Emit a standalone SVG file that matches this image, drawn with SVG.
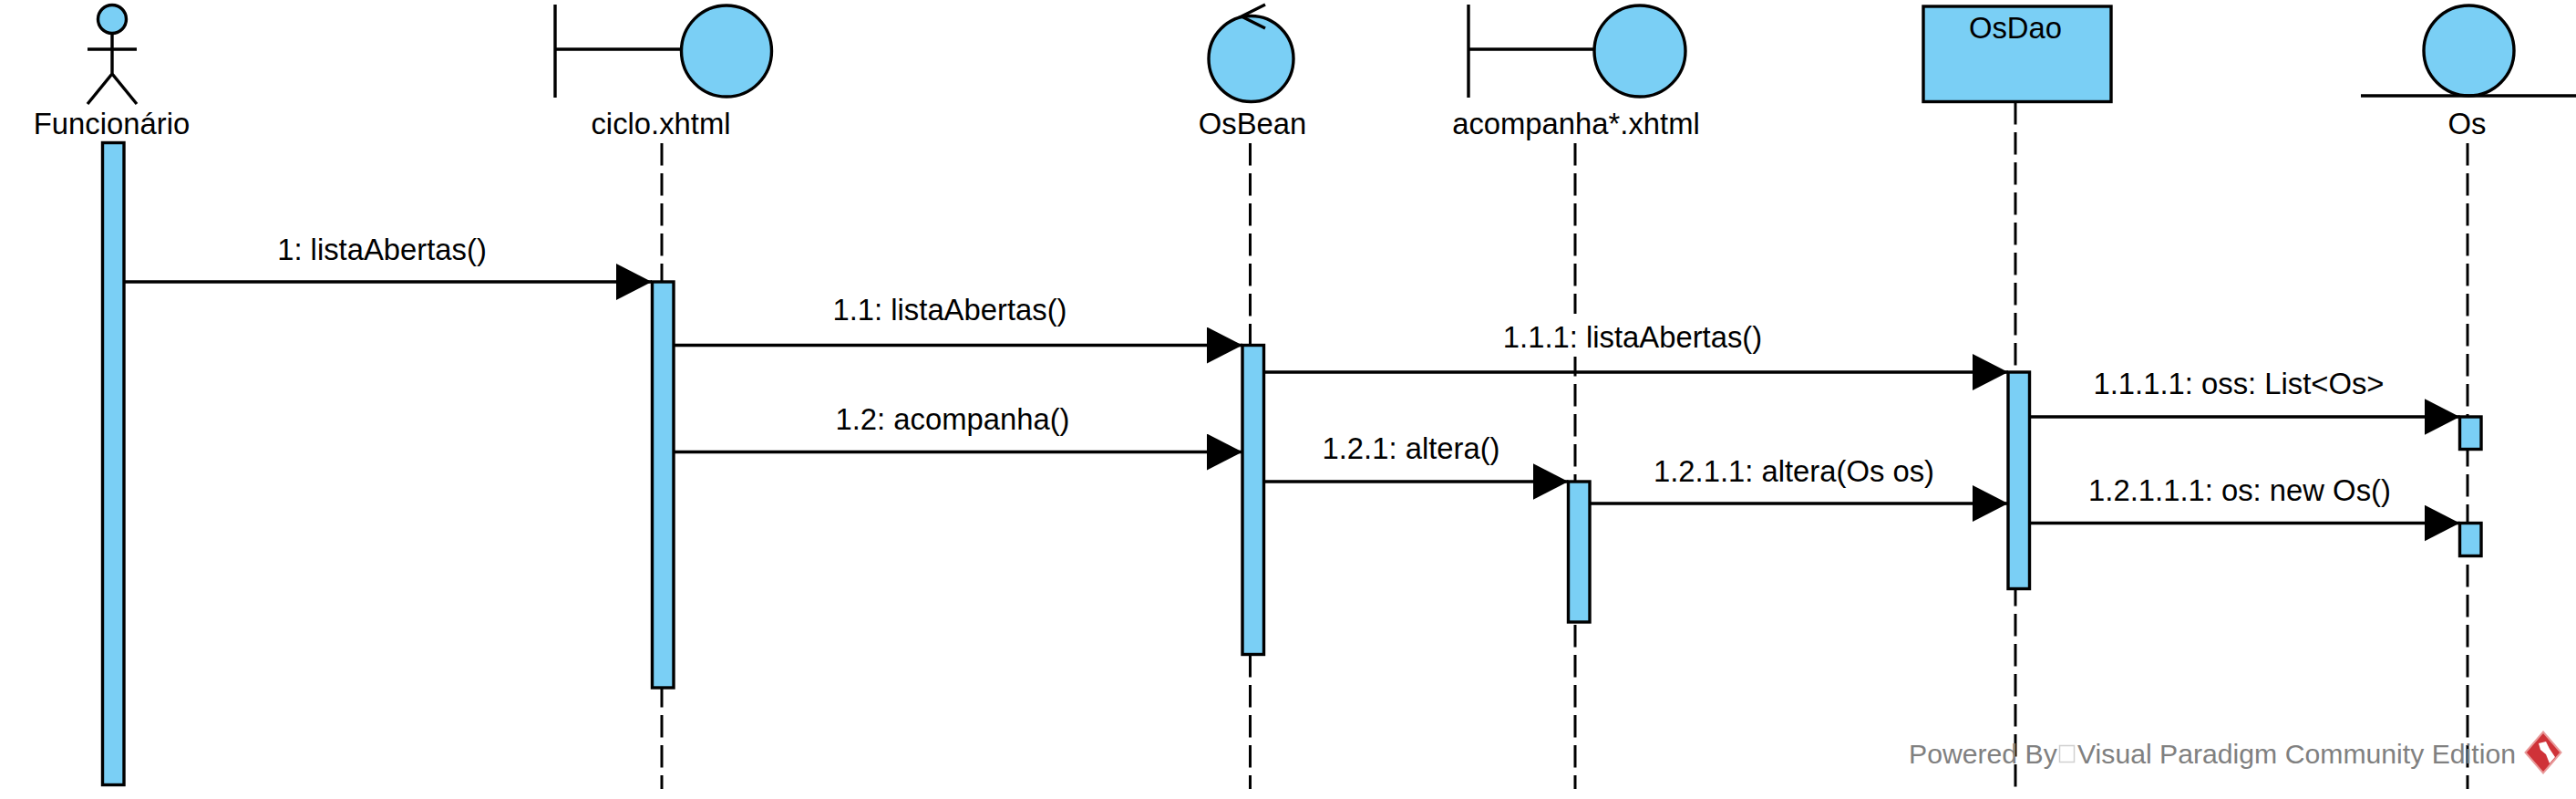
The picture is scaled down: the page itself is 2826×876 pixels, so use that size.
<svg xmlns="http://www.w3.org/2000/svg" width="2826" height="876" viewBox="0 0 2826 876">
<style>
text{font-family:"Liberation Sans",Arial,sans-serif;font-size:32.8px;fill:#000;text-anchor:middle}
.s{fill:#7acff5;stroke:#000;stroke-width:3.4}
.l{fill:none;stroke:#000;stroke-width:3.4}
.ll{fill:none;stroke:#000;stroke-width:3;stroke-dasharray:24.6 8.4}
.m{fill:none;stroke:#000;stroke-width:3.4;marker-end:url(#a)}
text.w{font-size:30.2px;fill:#808080;text-anchor:start}
</style>
<defs>
<marker id="a" markerUnits="userSpaceOnUse" markerWidth="39" markerHeight="40" viewBox="0 0 39 40" refX="39" refY="20" orient="auto"><path d="M0 0L39 20L0 40Z" fill="#000"/></marker>
</defs>
<rect width="2826" height="876" fill="#fff"/>
<g id="lifelines">
<path class="ll" d="M726 157V865"/>
<path class="ll" d="M1371.500 157V865"/>
<path class="ll" d="M1728 157V865"/>
<path class="ll" d="M2211 112V863"/>
<path class="ll" d="M2707 157V865"/>
</g>
<g id="actor-funcionario">
<circle class="s" cx="123" cy="21" r="15.500"/>
<path class="l" d="M123 36.500V81M96 54H150M96 114L123 81L150 114"/>
<text x="122.500" y="147">Funcionário</text>
<rect class="s" x="112.500" y="156.500" width="23.500" height="704"/>
</g>
<g id="boundary-ciclo">
<path class="l" d="M609 5V107M609 54H748"/>
<ellipse class="s" cx="797" cy="56" rx="49.500" ry="50"/>
<text x="725" y="147">ciclo.xhtml</text>
<rect class="s" x="715.500" y="309" width="23.500" height="445"/>
</g>
<g id="control-osbean">
<ellipse class="s" cx="1372.500" cy="64.500" rx="46.500" ry="47"/>
<path class="l" d="M1388 5L1362 18L1388 31"/>
<text x="1374" y="147">OsBean</text>
<rect class="s" x="1363" y="378.500" width="23.500" height="339"/>
</g>
<g id="boundary-acompanha">
<path class="l" d="M1611 5V107M1611 54H1750"/>
<ellipse class="s" cx="1799" cy="56" rx="50" ry="50"/>
<text x="1729" y="147">acompanha*.xhtml</text>
<rect class="s" x="1720.500" y="528" width="23.500" height="154"/>
</g>
<g id="lifeline-osdao">
<rect class="s" x="2110" y="7" width="206" height="104.500"/>
<text x="2211" y="42">OsDao</text>
<rect class="s" x="2203" y="408" width="23.500" height="237.500"/>
</g>
<g id="entity-os">
<ellipse class="s" cx="2708.500" cy="55.500" rx="49.500" ry="49.500"/>
<path class="l" d="M2590 105H2826"/>
<text x="2706.500" y="147">Os</text>
<rect class="s" x="2698.500" y="457" width="23.500" height="35.500"/>
<rect class="s" x="2698.500" y="573.500" width="23.500" height="36"/>
</g>
<g id="connectors">
<path class="m" d="M136 309H715"/>
<path class="m" d="M739 378.500H1363"/>
<path class="m" d="M739 495.500H1363"/>
<rect x="1649" y="344" width="285" height="47" fill="#fff"/>
<path class="m" d="M1386.500 408H2203"/>
<path class="m" d="M1744 552H2203"/>
<path class="m" d="M1386.500 528H1720.500"/>
<path class="m" d="M2226.500 457H2698.500"/>
<path class="m" d="M2226.500 573.500H2698.500"/>
<text x="419" y="285">1: listaAbertas()</text>
<text x="1042" y="351">1.1: listaAbertas()</text>
<text x="1045" y="471">1.2: acompanha()</text>
<text x="1791" y="381">1.1.1: listaAbertas()</text>
<text x="1548" y="503">1.2.1: altera()</text>
<text x="1968" y="528">1.2.1.1: altera(Os os)</text>
<text x="2456" y="432">1.1.1.1: oss: List&lt;Os&gt;</text>
<text x="2457" y="549">1.2.1.1.1: os: new Os()</text>
</g>
<g id="watermark">
<text class="w" x="2094" y="837">Powered By</text>
<rect x="2259.500" y="817.500" width="16" height="18" fill="#fff" stroke="#d0d0d0" stroke-width="1.500"/>
<text class="w" x="2279" y="837">Visual Paradigm Community Edition</text>
<path d="M2790 802.500L2809.500 825L2790 847.500L2770.500 825Z" fill="#cf3238" stroke="#e89a9a" stroke-width="2"/>
<path d="M2785 815L2793 813L2797 821L2803 830L2797 837L2793 827L2787 822Z" fill="#fff"/>
</g>
</svg>
